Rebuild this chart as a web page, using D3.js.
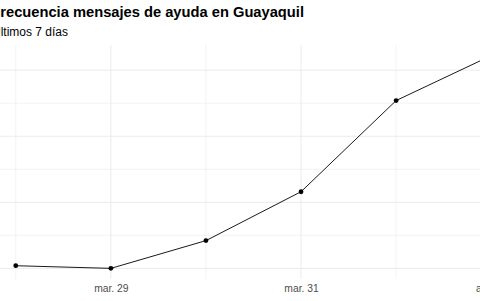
<!DOCTYPE html>
<html>
<head>
<meta charset="utf-8">
<script src="https://cdn.jsdelivr.net/npm/d3@7"></script>
<style>
  body { margin: 0; background: #fff; }
  svg { display: block; font-family: "Liberation Sans", Arial, sans-serif; }
</style>
</head>
<body>
<svg id="chart" width="480" height="301"></svg>
<script>
// datos: mensajes por dia (ultimos 7 dias)
var fechas = ["2020-03-28", "2020-03-29", "2020-03-30", "2020-03-31", "2020-04-01", "2020-04-02"];
var mensajes = [52, 50, 71, 108, 177, 211];
var ticksX = ["2020-03-29", "2020-03-31", "2020-04-02"];
var etiquetasX = ["mar. 29", "mar. 31", "abr. 02"];
var menoresX = ["2020-03-28", "2020-03-30", "2020-04-01"];
var ticksY = [50, 100, 150, 200];
var menoresY = [75, 125, 175];

var parse = d3.timeParse("%Y-%m-%d");
var datos = fechas.map(function (f, i) { return {fecha: parse(f), n: mensajes[i]}; });

var svg = d3.select("#chart");
var panel = {left: -8, right: 515, top: 45, bottom: 279};
var dia = 864e5;

var x = d3.scaleTime()
  .domain([+datos[0].fecha - dia / 4, +datos[datos.length - 1].fecha + dia / 4])
  .range([panel.left, panel.right]);

var ext = d3.extent(mensajes), pad = (ext[1] - ext[0]) * 0.05;
var y = d3.scaleLinear()
  .domain([ext[0] - pad, ext[1] + pad])
  .range([panel.bottom, panel.top]);

// grid
var g = svg.append("g");
g.selectAll("line.ymin").data(menoresY).enter().append("line")
  .attr("x1", panel.left).attr("x2", panel.right)
  .attr("y1", function (d) { return y(d); }).attr("y2", function (d) { return y(d); })
  .attr("stroke", "#f0f0f0").attr("stroke-width", 0.8);
g.selectAll("line.xmin").data(menoresX).enter().append("line")
  .attr("x1", function (d) { return x(parse(d)); }).attr("x2", function (d) { return x(parse(d)); })
  .attr("y1", panel.top).attr("y2", panel.bottom)
  .attr("stroke", "#f0f0f0").attr("stroke-width", 0.8);
g.selectAll("line.ymaj").data(ticksY).enter().append("line")
  .attr("x1", panel.left).attr("x2", panel.right)
  .attr("y1", function (d) { return y(d); }).attr("y2", function (d) { return y(d); })
  .attr("stroke", "#ebebeb").attr("stroke-width", 1);
g.selectAll("line.xmaj").data(ticksX).enter().append("line")
  .attr("x1", function (d) { return x(parse(d)); }).attr("x2", function (d) { return x(parse(d)); })
  .attr("y1", panel.top).attr("y2", panel.bottom)
  .attr("stroke", "#ebebeb").attr("stroke-width", 1);

// eje x
var ejeX = d3.axisBottom(x)
  .tickValues(ticksX.map(parse))
  .tickSize(0)
  .tickPadding(6)
  .tickFormat(function (d, i) { return etiquetasX[i]; });
svg.append("g")
  .attr("transform", "translate(0," + panel.bottom + ")")
  .call(ejeX)
  .call(function (s) { s.select(".domain").remove(); })
  .selectAll("text")
  .attr("fill", "#4d4d4d")
  .style("font-size", "10.3px")
  .style("font-family", "Liberation Sans, Arial, sans-serif");

// linea y puntos
var linea = d3.line()
  .x(function (d) { return x(d.fecha); })
  .y(function (d) { return y(d.n); });
svg.append("path").datum(datos)
  .attr("d", linea)
  .attr("fill", "none")
  .attr("stroke", "#000")
  .attr("stroke-width", 0.9);
svg.selectAll("circle").data(datos).enter().append("circle")
  .attr("cx", function (d) { return x(d.fecha); })
  .attr("cy", function (d) { return y(d.n); })
  .attr("r", 2.4)
  .attr("fill", "#000");

// titulos
svg.append("text")
  .attr("x", -8.7).attr("y", 17)
  .attr("font-size", "14.7px")
  .attr("font-weight", "bold")
  .attr("fill", "#000")
  .text("Frecuencia mensajes de ayuda en Guayaquil");
svg.append("text")
  .attr("x", -8).attr("y", 36)
  .attr("font-size", "12px")
  .attr("fill", "#000")
  .text("Últimos 7 días");
</script>
</body>
</html>
